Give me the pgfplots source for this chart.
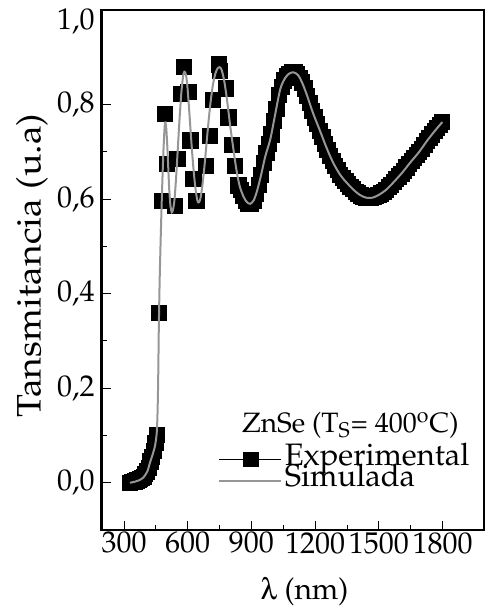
\documentclass[border=0pt]{standalone}
\usepackage[T1]{fontenc}
\usepackage{mathpazo}
\usepackage[Symbol]{upgreek}
\usepackage{pgfplots}
\pgfplotsset{compat=1.18}
\definecolor{simgray}{RGB}{150,150,150}

\pgfplotstableread{
x y
328 0.000
336 0.001
344 0.002
352 0.003
360 0.005
368 0.006
376 0.008
384 0.010
392 0.013
400 0.018
408 0.024
416 0.032
424 0.045
432 0.055
440 0.068
448 0.085
456 0.102
464 0.360
478 0.597
493 0.780
501 0.674
541 0.586
551 0.685
568 0.823
583 0.879
603 0.826
613 0.724
627 0.643
641 0.597
687 0.671
706 0.734
717 0.810
748 0.885
752 0.872
781 0.834
792 0.773
808 0.714
823 0.671
839 0.629
850 0.620
862 0.606
874 0.597
886 0.591
898 0.590
910 0.597
922 0.611
934 0.630
946 0.652
958 0.676
970 0.698
982 0.716
994 0.737
1006 0.765
1018 0.791
1030 0.820
1042 0.838
1054 0.851
1066 0.860
1078 0.865
1090 0.868
1102 0.868
1114 0.864
1126 0.857
1138 0.847
1150 0.834
1162 0.819
1174 0.803
1186 0.787
1198 0.773
1210 0.759
1222 0.745
1234 0.731
1246 0.717
1258 0.704
1270 0.692
1282 0.680
1294 0.670
1306 0.661
1318 0.651
1330 0.645
1342 0.638
1354 0.632
1366 0.626
1378 0.621
1390 0.616
1402 0.612
1414 0.608
1426 0.605
1438 0.603
1450 0.603
1462 0.603
1474 0.604
1486 0.606
1498 0.609
1510 0.612
1522 0.616
1534 0.620
1546 0.625
1558 0.630
1570 0.636
1582 0.642
1594 0.648
1606 0.654
1618 0.660
1630 0.667
1642 0.674
1654 0.680
1666 0.687
1678 0.693
1690 0.700
1702 0.707
1714 0.715
1726 0.723
1738 0.730
1750 0.737
1762 0.744
1774 0.750
1786 0.757
1798 0.764
}\experimental

\pgfplotstableread{
x y
328 0.000
350 0.002
370 0.005
391 0.011
410 0.024
422 0.042
435 0.060
446 0.078
454 0.105
458 0.150
461 0.220
464 0.330
468 0.430
473 0.520
478 0.600
483 0.670
488 0.725
493 0.762
498 0.755
503 0.720
508 0.670
513 0.620
519 0.585
525 0.572
531 0.578
538 0.600
546 0.650
555 0.720
563 0.780
571 0.830
580 0.865
588 0.868
596 0.850
605 0.800
615 0.735
625 0.675
635 0.628
644 0.600
650 0.593
658 0.598
668 0.625
680 0.675
692 0.735
705 0.795
718 0.840
730 0.865
740 0.876
750 0.879
760 0.873
772 0.850
785 0.810
800 0.755
815 0.706
830 0.660
845 0.627
863 0.605
878 0.594
894 0.590
910 0.597
925 0.615
945 0.650
965 0.690
989 0.727
1010 0.775
1036 0.833
1060 0.857
1080 0.866
1099 0.868
1120 0.862
1140 0.845
1162 0.819
1190 0.782
1225 0.742
1255 0.707
1287 0.675
1320 0.650
1350 0.634
1380 0.620
1410 0.609
1440 0.603
1470 0.603
1500 0.609
1535 0.620
1570 0.636
1610 0.656
1649 0.678
1690 0.700
1728 0.724
1765 0.745
1799 0.763
}\simulada

\pgfplotsset{
  explegend/.style={legend image code/.code={%
    \draw[black, line width=0.8pt] (0pt,0pt) -- (31pt,0pt);
    \fill[black] (12.3pt,-3.6pt) rectangle (19.8pt,3.6pt);}},
  simlegend/.style={legend image code/.code={%
    \draw[simgray, line width=1pt] (0pt,0pt) -- (31pt,0pt);}},
}

\begin{document}
\begin{tikzpicture}
\begin{axis}[
  scale only axis, width=191.15pt, height=260pt,
  at={(0pt,0pt)}, anchor=south west,
  clip mode=individual,
  xmin=195, xmax=1995, ymin=-0.1, ymax=1.0,
  xtick={300,600,900,1200,1500,1800},
  ytick={0,0.2,0.4,0.6,0.8},
  extra y ticks={1.0},
  extra y tick style={yticklabel style={/tikz/yshift=-5.5pt}},
  minor x tick num=1, minor y tick num=1,
  tick pos=left, tick align=inside,
  major tick length=4.5pt, minor tick length=2.5pt,
  axis line style={line width=1.2pt},
  every tick/.style={black, line width=0.5pt},
  tick label style={font=\fontsize{15}{18}\selectfont},
  xticklabel style={/pgf/number format/1000 sep={}, yshift=2.5pt},
  yticklabel style={/pgf/number format/fixed, /pgf/number format/fixed zerofill,
    /pgf/number format/precision=1, /pgf/number format/use comma},
  xlabel={$\uplambda$ (nm)},
  xlabel style={font=\fontsize{15}{18}\selectfont, at={(axis description cs:0.5305,-0.1183)}, anchor=center},
  ylabel={\scalebox{1.1}[1]{Tansmitancia (u.a)}},
  ylabel style={font=\fontsize{17}{20}\selectfont, at={(axis description cs:-0.1823,0.5087)}, anchor=center},
  legend cell align=left,
  legend style={draw=none, fill=none, inner sep=0pt, outer sep=0pt,
    at={(axis description cs:0.304,0.1557)}, anchor=north west,
    font=\fontsize{15.5}{18}\selectfont,
    nodes={inner sep=0pt, text height=8pt, text depth=2.5pt},
    column sep=1.5pt, row sep=0pt},
]
\addplot[only marks, mark=square*, mark size=3.8pt, mark options={fill=black, draw=black}, explegend]
  table {\experimental};
\addlegendentry{Experimental}
\addplot[simgray, line width=1pt, smooth, no marks, simlegend]
  table {\simulada};
\addlegendentry{Simulada}
\node[anchor=base west, inner sep=0pt, font=\fontsize{14}{16}\selectfont]
  at (rel axis cs:0.3662,0.1875) {ZnSe (T\textsubscript{S}= 400\textsuperscript{o}C)};
\end{axis}
\pgfresetboundingbox
\path[use as bounding box] (-50.85pt,-38pt) rectangle (193.15pt,265pt);
\end{tikzpicture}
\end{document}
